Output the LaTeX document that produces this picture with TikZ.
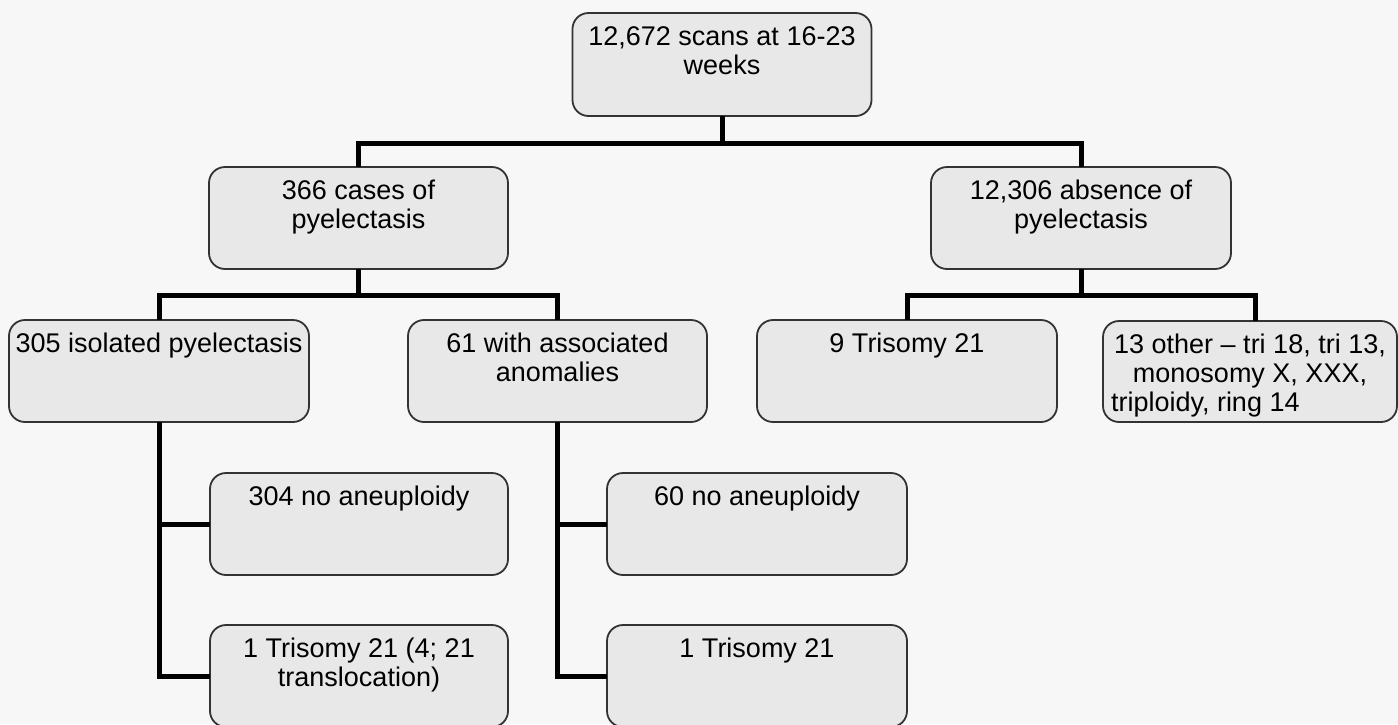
\documentclass[tikz,border=0pt]{standalone}
\usepackage{fontspec}
\setmainfont{Liberation Sans}
\newcommand{\bxtext}[3]{\parbox[c][#2][t]{#1}{\centering\fontsize{13.5pt}{14.6pt}\selectfont\rule{0pt}{16pt}#3\par}}
\begin{document}
\begin{tikzpicture}[x=0.5pt,y=-0.5pt,
  flowbox/.style={draw=black!80, line width=0.9pt, rounded corners=8pt, fill=black!9, inner sep=0pt, outer sep=0pt},
  conn/.style={line width=2.5pt, black, line join=miter}]
\fill[black!3] (0,0) rectangle (1398,724);
\useasboundingbox (0,0) rectangle (1398,724);
\node[flowbox] (top) at (722,64.5) {\bxtext{149.5pt}{51.5pt}{12,672 scans at 16-23\\weeks}};
\node[flowbox] (c366) at (358.5,218) {\bxtext{149.5pt}{51pt}{366 cases of\\pyelectasis}};
\node[flowbox] (abs) at (1081,218) {\bxtext{150pt}{51pt}{12,306 absence of\\pyelectasis}};
\node[flowbox] (iso) at (159,371) {\bxtext{150pt}{51pt}{305 isolated pyelectasis}};
\node[flowbox] (assoc) at (557.5,371) {\bxtext{149.5pt}{51pt}{61 with associated\\anomalies}};
\node[flowbox] (tri9) at (907,371) {\bxtext{150pt}{51pt}{9 Trisomy 21}};
\node[flowbox] (oth) at (1250,371.5) {\bxtext{147pt}{50.5pt}{13 other -- tri 18, tri 13,\\monosomy X, XXX,\\\makebox[\linewidth][l]{\hspace*{4pt}triploidy, ring 14}}};
\node[flowbox] (no304) at (359,524) {\bxtext{149pt}{51pt}{304 no aneuploidy}};
\node[flowbox] (no60) at (757,524) {\bxtext{150pt}{51pt}{60 no aneuploidy}};
\node[flowbox] (t1a) at (359,676) {\bxtext{149pt}{51pt}{1 Trisomy 21 (4; 21\\translocation)}};
\node[flowbox] (t1b) at (757,676) {\bxtext{150pt}{51pt}{1 Trisomy 21}};
% connectors
\draw[conn] (top.south) -- ++(0,27) -| (c366.north);
\draw[conn] (top.south) -- ++(0,27) -| (abs.north);
\draw[conn] (c366.south) -- ++(0,26) -| (iso.north);
\draw[conn] (c366.south) -- ++(0,26) -| (assoc.north);
\draw[conn] (abs.south) -- ++(0,26) -| (tri9.north);
\draw[conn] (abs.south) -- ++(0,26) -| ([xshift=2.5pt]oth.north);
\draw[conn] (iso.south) |- (no304.west);
\draw[conn] (iso.south) |- (t1a.west);
\draw[conn] (assoc.south) |- (no60.west);
\draw[conn] (assoc.south) |- (t1b.west);
\end{tikzpicture}
\end{document}
